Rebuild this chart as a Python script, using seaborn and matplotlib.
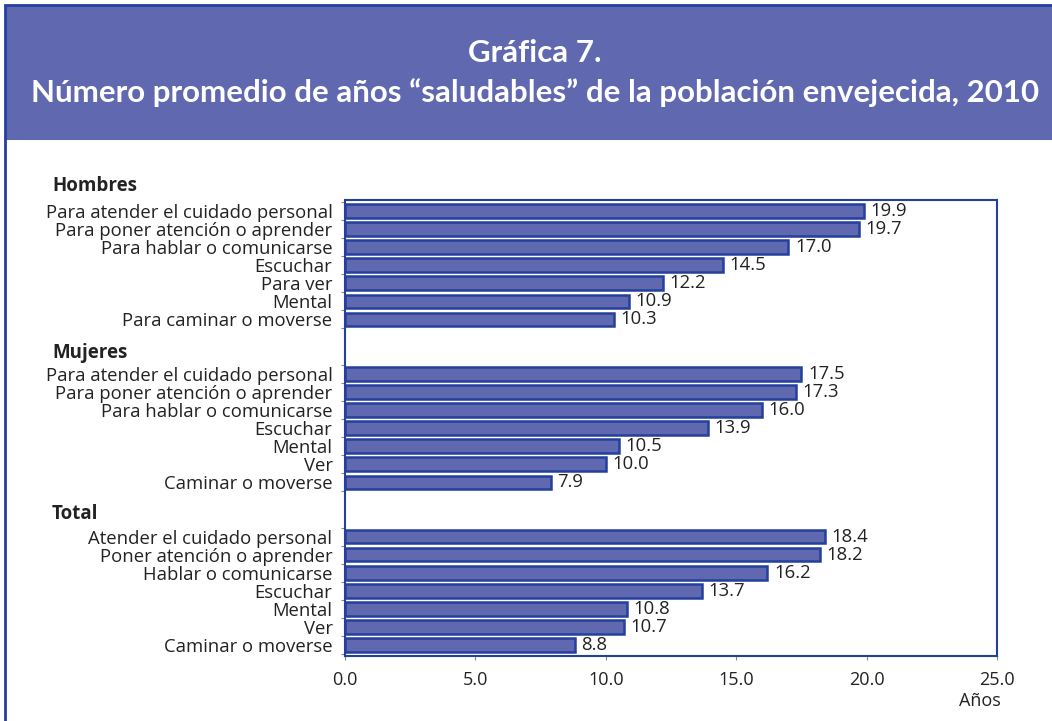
import numpy as np
import pandas as pd
import matplotlib
matplotlib.use("Agg")
import matplotlib.pyplot as plt
import seaborn as sns
from matplotlib.patches import Rectangle

# ---- data ----
groups = ["Hombres", "Mujeres", "Total"]
hombres_labels = ["Para atender el cuidado personal", "Para poner atención o aprender",
                  "Para hablar o comunicarse", "Escuchar", "Para ver", "Mental",
                  "Para caminar o moverse"]
hombres_values = [19.9, 19.7, 17.0, 14.5, 12.2, 10.9, 10.3]
mujeres_labels = ["Para atender el cuidado personal", "Para poner atención o aprender",
                  "Para hablar o comunicarse", "Escuchar", "Mental", "Ver",
                  "Caminar o moverse"]
mujeres_values = [17.5, 17.3, 16.0, 13.9, 10.5, 10.0, 7.9]
total_labels = ["Atender el cuidado personal", "Poner atención o aprender",
                "Hablar o comunicarse", "Escuchar", "Mental", "Ver", "Caminar o moverse"]
total_values = [18.4, 18.2, 16.2, 13.7, 10.8, 10.7, 8.8]
x_ticks = [0.0, 5.0, 10.0, 15.0, 20.0, 25.0]
title_line1 = "Gráfica 7."
title_line2 = "Número promedio de años “saludables” de la población envejecida, 2010"
x_unit = "Años"

# ---- build frame ----
group_starts = [0, 9, 18]
rows = []
for g, start, labs, vals in zip(groups, group_starts,
                                [hombres_labels, mujeres_labels, total_labels],
                                [hombres_values, mujeres_values, total_values]):
    for i, (l, v) in enumerate(zip(labs, vals)):
        rows.append({"grupo": g, "pos": start + i, "label": l, "valor": v})
df = pd.DataFrame(rows)

FILL = "#6068B0"
EDGE = "#243F9C"
HEAD = "#6068B0"
TXT = "#222222"

sns.set_theme(style="white")
plt.rcParams["font.family"] = ["Open Sans", "DejaVu Sans"]

fig = plt.figure(figsize=(10.52, 7.21), dpi=100)
W, H = 1052, 721

def fx(px):
    return px / W
def fy(py):
    return 1 - py / H

# header band and outer border
fig.patches.append(Rectangle((fx(6), fy(140)), fx(1052 - 6), fy(6) - fy(140),
                             transform=fig.transFigure, facecolor=HEAD,
                             edgecolor="none", zorder=0))
fig.patches.append(Rectangle((fx(5), fy(730)), fx(1060), fy(5) - fy(730),
                             transform=fig.transFigure, facecolor="none",
                             edgecolor=EDGE, linewidth=2, zorder=1))
fig.text(fx(535), fy(53), title_line1, ha="center", va="center", color="white",
         fontsize=22.5, fontweight="bold", family=["Lato", "DejaVu Sans"])
fig.text(fx(535), fy(93), title_line2, ha="center", va="center", color="white",
         fontsize=22.5, fontweight="bold", family=["Lato", "DejaVu Sans"])

ax = fig.add_axes([fx(345), fy(656), fx(997 - 345), fy(200) - fy(656)])
sns.barplot(data=df, x="valor", y="pos", orient="h", native_scale=True,
            color=FILL, edgecolor=EDGE, linewidth=1.8, width=0.75,
            saturation=1, ax=ax)

ax.set_xlim(0, 25)
ax.set_ylim(24.6, -0.6)
ax.set_xticks(x_ticks)
ax.set_xticklabels([f"{t:.1f}" for t in x_ticks], fontsize=13, color=TXT)
ax.set_yticks(df["pos"].tolist())
ax.set_yticklabels(df["label"].tolist(), fontsize=13.3, color=TXT)
ax.tick_params(axis="y", length=0, pad=9)
ax.tick_params(axis="x", length=3, width=0.8, color="#888888", pad=8, direction="out",
               bottom=True)
minor = []
for s in group_starts:
    minor += [s - 0.5 + k for k in range(8)]
ax.set_yticks(minor, minor=True)
ax.tick_params(axis="y", which="minor", length=3, width=0.8, color="#888888", left=True)
ax.set_xlabel("")
ax.set_ylabel("")
for sp in ax.spines.values():
    sp.set_visible(True)
    sp.set_color(EDGE)
    sp.set_linewidth(1.5)

for _, r in df.iterrows():
    ax.text(r["valor"] + 0.25, r["pos"], f"{r['valor']:.1f}", va="center", ha="left",
            fontsize=13.3, color=TXT)

# group headers
for g, ypos in zip(groups, [186, 353, 514]):
    fig.text(fx(52), fy(ypos), g, ha="left", va="center", fontsize=13.5,
             fontweight="bold", color=TXT)

fig.text(fx(980), fy(701), x_unit, ha="center", va="center", fontsize=13, color=TXT)

fig.savefig("out.png", dpi=100)
